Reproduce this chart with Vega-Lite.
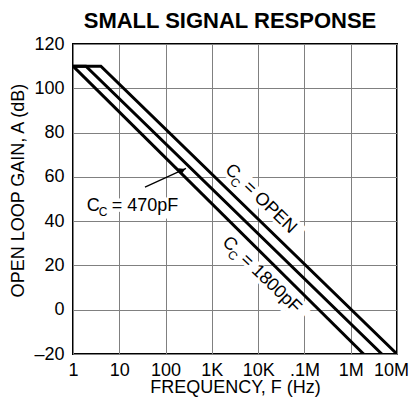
{
  "$schema": "https://vega.github.io/schema/vega-lite/v6.json",
  "width": 324,
  "height": 310,
  "autosize": {"type": "none"},
  "padding": {"left": 73, "top": 44, "right": 12, "bottom": 48},
  "background": "white",
  "title": {
    "text": "SMALL SIGNAL RESPONSE",
    "font": "Liberation Sans",
    "fontSize": 22,
    "fontWeight": "bold",
    "color": "black",
    "anchor": "middle",
    "baseline": "alphabetic",
    "offset": -15,
    "dx": -5
  },
  "config": {
    "view": {"stroke": "black", "strokeWidth": 2},
    "axis": {
      "domain": false,
      "ticks": false,
      "grid": true,
      "gridColor": "#808080",
      "gridWidth": 1,
      "gridOpacity": 1,
      "labelFont": "Liberation Sans",
      "labelFontSize": 18,
      "labelColor": "black",
      "titleFont": "Liberation Sans",
      "titleFontSize": 18,
      "titleFontWeight": "normal",
      "titleColor": "black"
    }
  },
  "datasets": {
    "curves": [
      {"series": "1800pF", "freq": 1, "gain": 110},
      {"series": "1800pF", "freq": 1900000, "gain": -20},
      {"series": "470pF", "freq": 1, "gain": 110},
      {"series": "470pF", "freq": 1.9, "gain": 110},
      {"series": "470pF", "freq": 4700000, "gain": -20},
      {"series": "open", "freq": 1, "gain": 110},
      {"series": "open", "freq": 4, "gain": 110},
      {"series": "open", "freq": 10000000, "gain": -20}
    ],
    "labels": [
      {"name": "open", "rotated": true, "freq": 1846, "gain": 62.8, "main": "C", "sub": "C", "rest": "= OPEN", "halo": "CC = OPEN"},
      {"name": "1800pF", "rotated": true, "freq": 1622, "gain": 30.0, "main": "C", "sub": "C", "rest": "= 1800pF", "halo": "CC = 1800pF"},
      {"name": "470pF", "rotated": false, "freq": 1.98, "gain": 44.6, "main": "C", "sub": "C", "rest": "= 470pF", "halo": "CC = 470pF"}
    ],
    "arrow": [
      {"freq": 35.9, "gain": 55.4, "freq2": 276, "gain2": 63.8}
    ],
    "arrowhead": [
      {"freq": 232, "gain": 63.0}
    ]
  },
  "layer": [
    {
      "data": {"name": "labels"},
      "transform": [{"filter": "datum.rotated"}],
      "mark": {"type": "text", "angle": 44, "align": "left", "baseline": "alphabetic", "font": "Liberation Sans", "fontSize": 18, "fill": "white", "stroke": "white", "strokeWidth": 7},
      "encoding": {
        "x": {"field": "freq", "type": "quantitative", "scale": {"type": "log", "domain": [1, 10000000]}},
        "y": {"field": "gain", "type": "quantitative", "scale": {"domain": [-20, 120]}},
        "text": {"field": "halo"}
      }
    },
    {
      "data": {"name": "labels"},
      "transform": [{"filter": "!datum.rotated"}],
      "mark": {"type": "text", "angle": 0, "align": "left", "baseline": "alphabetic", "font": "Liberation Sans", "fontSize": 18, "fill": "white", "stroke": "white", "strokeWidth": 7},
      "encoding": {
        "x": {"field": "freq", "type": "quantitative"},
        "y": {"field": "gain", "type": "quantitative"},
        "text": {"field": "halo"}
      }
    },
    {
      "data": {"name": "curves"},
      "mark": {"type": "line", "color": "black", "strokeWidth": 3, "clip": true, "strokeCap": "butt"},
      "encoding": {
        "x": {
          "field": "freq", "type": "quantitative",
          "scale": {"type": "log", "domain": [1, 10000000]},
          "axis": {
            "values": [1, 10, 100, 1000, 10000, 100000, 1000000, 10000000],
            "labelExpr": "['1','10','100','1K','10K','.1M','1M','10M'][round(log(datum.value)/LN10)]",
            "labelFlush": false,
            "labelPadding": 7,
            "labelOffset": {"condition": {"test": "datum.value > 5000000", "value": -6}, "value": 0},
            "title": "FREQUENCY, F (Hz)",
            "titleBaseline": "alphabetic",
            "titleY": 38
          }
        },
        "y": {
          "field": "gain", "type": "quantitative",
          "scale": {"domain": [-20, 120]},
          "axis": {
            "values": [-20, 0, 20, 40, 60, 80, 100, 120],
            "labelExpr": "datum.value < 0 ? '–' + abs(datum.value) : '' + datum.value",
            "labelPadding": 9,
            "title": "OPEN LOOP GAIN, A (dB)",
            "titleBaseline": "alphabetic",
            "titleX": -50,
            "titleY": 146
          }
        },
        "detail": {"field": "series"}
      }
    },
    {
      "data": {"name": "arrow"},
      "mark": {"type": "rule", "color": "black", "strokeWidth": 1.3},
      "encoding": {
        "x": {"field": "freq", "type": "quantitative"},
        "y": {"field": "gain", "type": "quantitative"},
        "x2": {"field": "freq2"},
        "y2": {"field": "gain2"}
      }
    },
    {
      "data": {"name": "arrowhead"},
      "mark": {"type": "point", "shape": "triangle-up", "angle": 66, "size": 50, "filled": true, "color": "black", "opacity": 1},
      "encoding": {
        "x": {"field": "freq", "type": "quantitative"},
        "y": {"field": "gain", "type": "quantitative"}
      }
    },
    {
      "data": {"name": "labels"},
      "transform": [{"filter": "datum.rotated"}],
      "mark": {"type": "text", "angle": 44, "align": "left", "baseline": "alphabetic", "font": "Liberation Sans", "fontSize": 18, "color": "black"},
      "encoding": {
        "x": {"field": "freq", "type": "quantitative"},
        "y": {"field": "gain", "type": "quantitative"},
        "text": {"field": "main"}
      }
    },
    {
      "data": {"name": "labels"},
      "transform": [{"filter": "datum.rotated"}],
      "mark": {"type": "text", "angle": 44, "align": "left", "baseline": "alphabetic", "font": "Liberation Sans", "fontSize": 12, "dx": 12, "dy": 5, "color": "black"},
      "encoding": {
        "x": {"field": "freq", "type": "quantitative"},
        "y": {"field": "gain", "type": "quantitative"},
        "text": {"field": "sub"}
      }
    },
    {
      "data": {"name": "labels"},
      "transform": [{"filter": "datum.rotated"}],
      "mark": {"type": "text", "angle": 44, "align": "left", "baseline": "alphabetic", "font": "Liberation Sans", "fontSize": 18, "dx": 25, "color": "black"},
      "encoding": {
        "x": {"field": "freq", "type": "quantitative"},
        "y": {"field": "gain", "type": "quantitative"},
        "text": {"field": "rest"}
      }
    },
    {
      "data": {"name": "labels"},
      "transform": [{"filter": "!datum.rotated"}],
      "mark": {"type": "text", "angle": 0, "align": "left", "baseline": "alphabetic", "font": "Liberation Sans", "fontSize": 18, "color": "black"},
      "encoding": {
        "x": {"field": "freq", "type": "quantitative"},
        "y": {"field": "gain", "type": "quantitative"},
        "text": {"field": "main"}
      }
    },
    {
      "data": {"name": "labels"},
      "transform": [{"filter": "!datum.rotated"}],
      "mark": {"type": "text", "angle": 0, "align": "left", "baseline": "alphabetic", "font": "Liberation Sans", "fontSize": 12, "dx": 12, "dy": 5, "color": "black"},
      "encoding": {
        "x": {"field": "freq", "type": "quantitative"},
        "y": {"field": "gain", "type": "quantitative"},
        "text": {"field": "sub"}
      }
    },
    {
      "data": {"name": "labels"},
      "transform": [{"filter": "!datum.rotated"}],
      "mark": {"type": "text", "angle": 0, "align": "left", "baseline": "alphabetic", "font": "Liberation Sans", "fontSize": 18, "dx": 25, "color": "black"},
      "encoding": {
        "x": {"field": "freq", "type": "quantitative"},
        "y": {"field": "gain", "type": "quantitative"},
        "text": {"field": "rest"}
      }
    }
  ]
}
